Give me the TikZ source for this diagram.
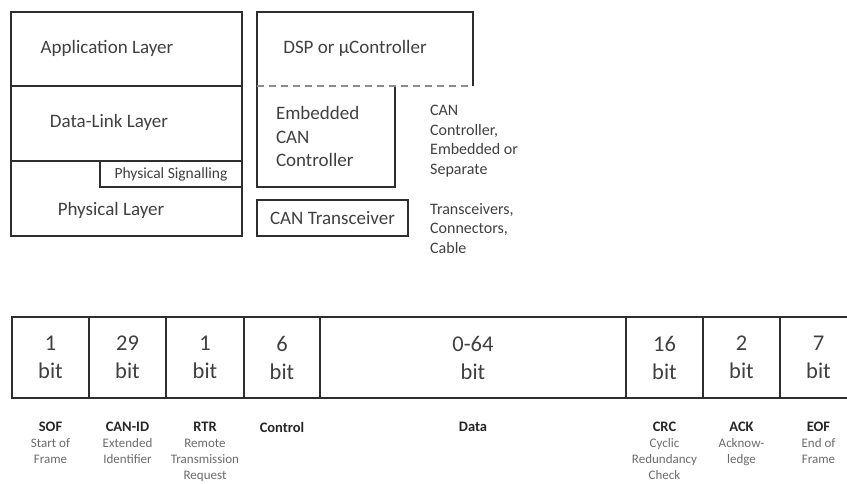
\documentclass[tikz,border=0pt]{standalone}
\usepackage{fontspec}
\setmainfont{Carlito}
\usetikzlibrary{positioning}
\colorlet{line_gray}{black!82}
\colorlet{text_gray}{black!75}
\colorlet{desc_gray}{black!58}
\newcommand{\layerfont}{\fontsize{19}{23.5}\selectfont}
\newcommand{\notefont}{\fontsize{16}{19.5}\selectfont}
\newcommand{\bitfont}{\fontsize{22.5}{28}\selectfont}
\newcommand{\fieldfont}{\fontsize{14.5}{16}\selectfont\bfseries\color{black!85}}
\newcommand{\descfont}{\fontsize{13}{16}\selectfont}

\begin{document}
\begin{tikzpicture}[x=1pt, y=-1pt,
                    box/.style={rectangle, draw=line_gray, line width=1.8pt, inner sep=0pt, outer sep=0pt, text=text_gray, font=\layerfont},
                    bare/.style={box, draw=none},
                    edge/.style={line_gray, line width=1.8pt},
                    divider/.style={black!45, line width=1.8pt, dash pattern=on 7pt off 5pt},
                    cell/.style={box, minimum height=81pt, align=center, font=\bitfont},
                    field/.style={inner sep=0pt, align=center, text=desc_gray, font=\descfont},
                    note/.style={inner sep=0pt, align=left, anchor=west, text=text_gray, font=\notefont},
                    every label/.style={inner sep=0pt, text=text_gray, font=\layerfont}]

  \useasboundingbox (0,0) rectangle (847,484);

  % Layer stack
  \node[box, minimum width=231pt, minimum height=74pt, anchor=north west,
        label={[xshift=-19.5pt, yshift=0.5pt]center:Application Layer}] (app) at (11,12) {};
  \node[box, minimum width=231pt, minimum height=75pt,
        label={[xshift=-17.5pt, yshift=1pt]center:Data-Link Layer}] (dll) [below=0pt of app] {};
  \node[box, minimum width=231pt, minimum height=75pt,
        label={[xshift=-15.5pt, yshift=-12pt]center:Physical Layer}] (phy) [below=0pt of dll] {};
  \node[box, line width=1.4pt, minimum width=142pt, minimum height=26pt, anchor=north east,
        font=\fontsize{15.5}{19}\selectfont] (sig) at (phy.north east) {Physical Signalling};

  % Hardware
  \node[bare, minimum width=216pt, minimum height=74pt, anchor=north west,
        label={[xshift=-10pt, yshift=0.5pt]center:DSP or µController}] (dsp) at (257,12) {};
  \node[bare, minimum width=138pt, minimum height=101pt, text width=100pt, inner xsep=19pt,
        align=left, anchor=north west] (emb) at (dsp.south west) {Embedded\\CAN\\Controller};
  \node[box, minimum width=151pt, minimum height=36pt, anchor=north west] (trx) at (257,200) {CAN Transceiver};

  \draw[edge] (dsp.south west) |- (dsp.north east) -- (dsp.south east);
  \draw[edge] (emb.north west) |- (emb.south east) -- (emb.north east);
  \draw[divider] (dsp.south west) -- (dsp.south east);

  \node[note] (ctl_note) at (430,141) {CAN\\Controller,\\Embedded or\\Separate};
  \node[note] (trx_note) at (430,228.5) {Transceivers,\\Connectors,\\Cable};

  % Frame fields
  \node[cell, minimum width=77pt, anchor=north west] (sof) at (12,317) {1\\bit};
  \node[cell, minimum width=77pt] (canid) [right=0pt of sof] {29\\bit};
  \node[cell, minimum width=78pt] (rtr) [right=0pt of canid] {1\\bit};
  \node[cell, minimum width=76pt] (ctrl) [right=0pt of rtr] {6\\bit};
  \node[cell, minimum width=306pt] (data) [right=0pt of ctrl] {0-64\\bit};
  \node[cell, minimum width=77pt] (crc) [right=0pt of data] {16\\bit};
  \node[cell, minimum width=77pt] (ack) [right=0pt of crc] {2\\bit};
  \node[cell, minimum width=77pt] (eof) [right=0pt of ack] {7\\bit};

  \node[field, below=24pt of sof] (sof_lbl) {{\fieldfont SOF}\\Start of\\Frame};
  \node[field, below=24pt of canid] (canid_lbl) {{\fieldfont CAN-ID}\\Extended\\Identifier};
  \node[field, below=24pt of rtr] (rtr_lbl) {{\fieldfont RTR}\\Remote\\Transmission\\Request};
  \node[field, below=24pt of ctrl] (ctrl_lbl) {{\fieldfont Control}};
  \node[field, below=24pt of data] (data_lbl) {{\fieldfont Data}};
  \node[field, below=24pt of crc] (crc_lbl) {{\fieldfont CRC}\\Cyclic\\Redundancy\\Check};
  \node[field, below=24pt of ack] (ack_lbl) {{\fieldfont ACK}\\Acknow-\\ledge};
  \node[field, below=24pt of eof] (eof_lbl) {{\fieldfont EOF}\\End of\\Frame};

\end{tikzpicture}
\end{document}
